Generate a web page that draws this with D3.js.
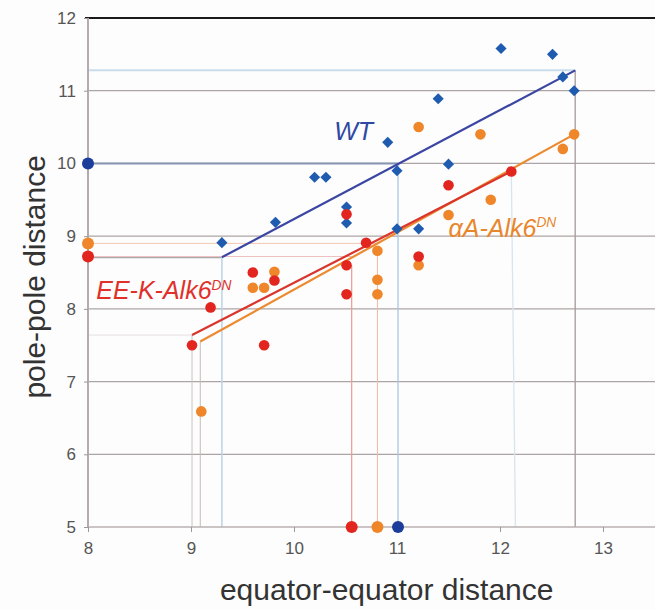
<!DOCTYPE html>
<html>
<head>
<meta charset="utf-8">
<title>pole-pole vs equator-equator</title>
<script src="https://cdn.jsdelivr.net/npm/d3@7"></script>
<style>
  body { margin: 0; background: #fdfdfd; }
  text { font-family: "Liberation Sans", Arial, Helvetica, sans-serif; }
</style>
</head>
<body>
<div id="chart"></div>
<script>
// data
var wtX = [9.30, 9.82, 10.20, 10.31, 10.51, 10.51, 10.91, 11.00, 11.00, 11.21, 11.40, 11.50, 12.01, 12.51, 12.61, 12.72];
var wtY = [8.91, 9.19, 9.81, 9.81, 9.40, 9.18, 10.29, 9.90, 9.10, 9.10, 10.89, 9.99, 11.58, 11.50, 11.19, 11.00];

var eeX = [9.01, 9.19, 9.60, 9.71, 9.81, 10.51, 10.51, 10.51, 10.70, 11.21, 11.50, 12.11];
var eeY = [7.50, 8.02, 8.50, 7.50, 8.39, 9.30, 8.60, 8.20, 8.91, 8.72, 9.70, 9.89];

var aaX = [9.10, 9.60, 9.71, 9.81, 10.81, 10.81, 10.81, 11.21, 11.21, 11.50, 11.81, 11.91, 12.61, 12.72];
var aaY = [6.59, 8.29, 8.29, 8.51, 8.80, 8.40, 8.20, 10.50, 8.60, 9.29, 10.40, 9.50, 10.20, 10.40];

// means shown on the axes
var wtMean = [11.01, 10.00];
var eeMean = [10.56, 8.72];
var aaMean = [10.81, 8.90];

// fitted line end points
var wtFit = [[9.30, 8.71], [12.73, 11.28]];
var eeFit = [[9.01, 7.64], [12.11, 9.89]];
var aaFit = [[9.09, 7.55], [12.72, 10.40]];

var xTicks = [8, 9, 10, 11, 12, 13];
var yTicks = [5, 6, 7, 8, 9, 10, 11, 12];

var margin = {top: 18, right: 0, bottom: 82, left: 88},
    width = 655 - margin.left - margin.right,
    height = 609 - margin.top - margin.bottom;

var x = d3.scaleLinear().domain([8, 13.5]).range([0, width - 0.5]);
var y = d3.scaleLinear().domain([5, 12]).range([height, 0]);

var svg = d3.select("#chart").append("svg")
    .attr("width", 655)
    .attr("height", 609)
    .append("g")
    .attr("transform", "translate(" + margin.left + "," + margin.top + ")");

// horizontal grid lines
svg.selectAll(".grid")
    .data([6, 7, 8, 9, 10, 11])
    .enter().append("line")
    .attr("x1", 0).attr("x2", width)
    .attr("y1", function(d) { return y(d); })
    .attr("y2", function(d) { return y(d); })
    .attr("stroke", "#ada5a5")
    .attr("stroke-width", 1.3);

// helper for thin guide lines
function guide(x1, y1, x2, y2, color, w) {
    svg.append("line")
        .attr("x1", x(x1)).attr("y1", y(y1))
        .attr("x2", x(x2)).attr("y2", y(y2))
        .attr("stroke", color)
        .attr("stroke-width", w || 1);
}

// guides at the ends of the fitted lines
guide(8, wtFit[0][1], wtFit[0][0], wtFit[0][1], "#a9a9ad", 2);
guide(wtFit[0][0], wtFit[0][1], wtFit[0][0], 5, "#bcd3e6", 1.5);
guide(8, wtFit[1][1], wtFit[1][0], wtFit[1][1], "#c9dcea", 2);
guide(wtFit[1][0], wtFit[1][1], wtFit[1][0], 5, "#a49a9a", 1.3);
guide(8, eeFit[0][1], eeFit[0][0], eeFit[0][1], "#e6e0e0", 1);
guide(eeFit[0][0], eeFit[0][1], eeFit[0][0], 5, "#ccc4c4", 1);
guide(eeFit[1][0], eeFit[1][1], eeFit[1][0] + 0.04, 5, "#d8e4ee", 1.3);
guide(aaFit[0][0], aaFit[0][1], aaFit[0][0], 5, "#c4baba", 1);

// guides from the means
guide(8, wtMean[1], wtMean[0], wtMean[1], "#8596b3", 2);
guide(wtMean[0], wtMean[1], wtMean[0], 5, "#a9c8e2", 1.3);
guide(8, aaMean[1], aaMean[0], aaMean[1], "#f2c8b4", 1);
guide(aaMean[0], aaMean[1] - 0.1, aaMean[0], 5, "#f0b8a8", 1);
guide(8, eeMean[1], eeMean[0], eeMean[1], "#eec0c0", 1);
guide(eeMean[0], eeMean[1] - 0.12, eeMean[0], 5, "#ea9a94", 1.2);

// axes frame
svg.append("line")
    .attr("x1", -3).attr("x2", width)
    .attr("y1", y(12)).attr("y2", y(12))
    .attr("stroke", "#1a1a1a").attr("stroke-width", 2);
svg.append("line")
    .attr("x1", 0).attr("x2", 0)
    .attr("y1", y(12)).attr("y2", y(5))
    .attr("stroke", "#b4acac").attr("stroke-width", 2);
svg.append("line")
    .attr("x1", 0).attr("x2", width)
    .attr("y1", y(5)).attr("y2", y(5))
    .attr("stroke", "#b8b0b0").attr("stroke-width", 1.5);

var yAxis = svg.append("g")
    .call(d3.axisLeft(y).tickValues(yTicks).tickFormat(d3.format("d")).tickSize(4).tickPadding(8));
var xAxis = svg.append("g")
    .attr("transform", "translate(0," + height + ")")
    .call(d3.axisBottom(x).tickValues(xTicks).tickFormat(d3.format("d")).tickSize(5).tickPadding(10));
[yAxis, xAxis].forEach(function(a) {
    a.select(".domain").remove();
    a.selectAll(".tick line").attr("stroke", "#999");
    a.selectAll("text")
        .style("font-size", "17px")
        .style("fill", "#555")
        .style("font-family", "'Liberation Sans', Arial, sans-serif");
});

// fitted lines
var fitLine = d3.line()
    .x(function(d) { return x(d[0]); })
    .y(function(d) { return y(d[1]); });
svg.append("path").datum(wtFit)
    .attr("fill", "none").attr("stroke", "#3b46a3").attr("stroke-width", 2.2).attr("d", fitLine);
svg.append("path").datum(aaFit)
    .attr("fill", "none").attr("stroke", "#ec8a30").attr("stroke-width", 2.2).attr("d", fitLine);
svg.append("path").datum(eeFit)
    .attr("fill", "none").attr("stroke", "#d9352c").attr("stroke-width", 2.2).attr("d", fitLine);

// WT diamonds
var diamond = d3.symbol().type(d3.symbolSquare).size(62);
svg.selectAll(".wt")
    .data(wtX)
    .enter().append("path")
    .attr("d", diamond)
    .attr("transform", function(d, i) {
        return "translate(" + x(d) + "," + y(wtY[i]) + ") rotate(45)";
    })
    .attr("fill", "#1f5cb0");

// alphaA circles
svg.selectAll(".aa")
    .data(aaX)
    .enter().append("circle")
    .attr("cx", function(d) { return x(d); })
    .attr("cy", function(d, i) { return y(aaY[i]); })
    .attr("r", 5.3)
    .attr("fill", "#ef8629");

// EE-K circles
svg.selectAll(".ee")
    .data(eeX)
    .enter().append("circle")
    .attr("cx", function(d) { return x(d); })
    .attr("cy", function(d, i) { return y(eeY[i]); })
    .attr("r", 5.3)
    .attr("fill", "#e2261f");

// mean markers on the axes
var means = [
    {v: wtMean, c: "#1d3d9c"},
    {v: aaMean, c: "#ef8629"},
    {v: eeMean, c: "#e2261f"}
];
means.forEach(function(m) {
    svg.append("circle").attr("cx", x(8)).attr("cy", y(m.v[1])).attr("r", 6).attr("fill", m.c);
    svg.append("circle").attr("cx", x(m.v[0])).attr("cy", y(5)).attr("r", 6).attr("fill", m.c);
});

// series labels
function label(tx, ty, main, sup, color, size) {
    var t = svg.append("text")
        .attr("x", x(tx)).attr("y", y(ty))
        .style("font-size", size + "px")
        .style("font-style", "italic")
        .style("fill", color);
    t.append("tspan").text(main);
    if (sup) {
        t.append("tspan")
            .attr("dy", -size * 0.38)
            .style("font-size", (size * 0.55) + "px")
            .text(sup);
    }
}
label(10.39, 10.32, "WT", null, "#2e48a3", 25);
label(8.08, 8.13, "EE-K-Alk6", "DN", "#e1302a", 25);
label(11.50, 8.99, "\u03b1A-Alk6", "DN", "#e8862c", 25);

// axis titles
svg.append("text")
    .attr("transform", "rotate(-90)")
    .attr("x", -(y(8.44)))
    .attr("y", -margin.left + 45)
    .style("text-anchor", "middle")
    .style("font-size", "30px")
    .style("fill", "#333")
    .text("pole-pole distance");

svg.append("text")
    .attr("x", x(10.9))
    .attr("y", height + 73)
    .style("text-anchor", "middle")
    .style("font-size", "30px")
    .style("fill", "#333")
    .text("equator-equator distance");
</script>
</body>
</html>
